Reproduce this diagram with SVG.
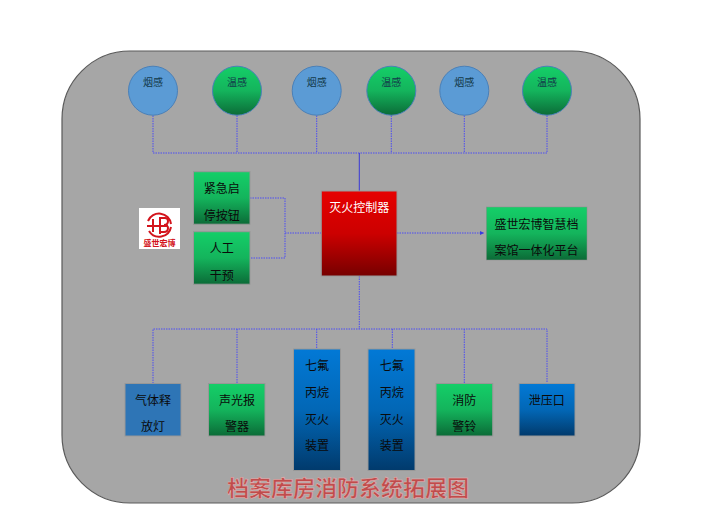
<svg xmlns="http://www.w3.org/2000/svg" width="720" height="509" viewBox="0 0 720 509">
<defs>
<linearGradient id="green" x1="0" y1="0" x2="0" y2="1"><stop offset="0" stop-color="#14cf68"/><stop offset="0.5" stop-color="#14b45c"/><stop offset="1" stop-color="#0b6b37"/></linearGradient>
<linearGradient id="blue" x1="0" y1="0" x2="0" y2="1"><stop offset="0" stop-color="#0279d6"/><stop offset="0.5" stop-color="#0267b6"/><stop offset="1" stop-color="#013a6c"/></linearGradient>
<linearGradient id="red" x1="0" y1="0" x2="0" y2="1"><stop offset="0" stop-color="#e60000"/><stop offset="0.5" stop-color="#cc0000"/><stop offset="1" stop-color="#760000"/></linearGradient>
<marker id="arrow" markerWidth="5" markerHeight="5" refX="4" refY="2.5" orient="auto" markerUnits="userSpaceOnUse"><path d="M0 0.5L4 2.5L0 4.5Z" fill="#3a3ae0"/></marker>
</defs>
<style>
text{font-family:"Noto Sans CJK SC","Liberation Serif",serif;text-anchor:middle;fill:#0a0a0a}
.c{font-size:10px;fill:#133a4a}
.b{font-size:12px}
.conn{fill:none;stroke:#4d4df2;stroke-width:1;stroke-dasharray:1.5 1}
.box{stroke:#979797;stroke-width:1}
.cir{stroke:#4a80b8;stroke-width:1}
</style>
<rect x="62" y="51" width="578" height="452" rx="68" ry="68" fill="#a6a6a6" stroke="#5a5a5a" stroke-width="1.200"/>
<g id="connectors">
<path class="conn" d="M153 115.500V153H547V115.500M237 115.500V153M316.700 115.500V153M391.300 115.500V153M464.300 115.500V153"/>
<path d="M359.300 153V191" fill="none" stroke="#3a3ad8" stroke-width="1"/>
<path class="conn" d="M250 198H285V258H250M285 233H321"/>
<path class="conn" d="M397 233H484" marker-end="url(#arrow)"/>
<path class="conn" d="M359.300 276V329M153 383.500V329H547V383.500M237 329V383.500M316.700 329V349M392.300 329V349M464.300 329V383.500"/>
</g>
<g id="n-smoke1"><circle class="cir" cx="153" cy="90.700" r="24.500" fill="#5b9bd5"/><text class="c" x="153" y="86">烟感</text></g>
<g id="n-temp1"><circle class="cir" cx="237" cy="90.700" r="24.500" fill="url(#green)"/><text class="c" x="237" y="86">温感</text></g>
<g id="n-smoke2"><circle class="cir" cx="316.700" cy="90.700" r="24.500" fill="#5b9bd5"/><text class="c" x="316.700" y="86">烟感</text></g>
<g id="n-temp2"><circle class="cir" cx="391.300" cy="90.700" r="24.500" fill="url(#green)"/><text class="c" x="391.300" y="86">温感</text></g>
<g id="n-smoke3"><circle class="cir" cx="464.300" cy="90.700" r="24.500" fill="#5b9bd5"/><text class="c" x="464.300" y="86">烟感</text></g>
<g id="n-temp3"><circle class="cir" cx="547" cy="90.700" r="24.500" fill="url(#green)"/><text class="c" x="547" y="86">温感</text></g>
<g id="n-stop"><rect class="box" x="193.500" y="171.700" width="56.500" height="52.500" fill="url(#green)"/><text class="b" x="221.700" y="193">紧急启</text><text class="b" x="221.700" y="219.500">停按钮</text></g>
<g id="n-manual"><rect class="box" x="193.500" y="231.700" width="56.500" height="52.500" fill="url(#green)"/><text class="b" x="221.700" y="253">人工</text><text class="b" x="221.700" y="279.500">干预</text></g>
<g id="n-logo"><rect x="139" y="208" width="41" height="41" fill="#fff"/>
<g fill="none" stroke="#d3141c" stroke-width="2"><path d="M148 221A12 12 0 0 1 171 224"/><path d="M171 227A12 12 0 0 1 149 231"/><path d="M147 226H168M153 219V232M160 217V234M160 218H165Q168 218 168 221Q168 225 164 225Q168 225 168 228Q168 232 164 232H160"/></g>
<text x="159.500" y="245.500" style="font-size:8px;font-weight:700;fill:#d3141c">盛世宏博</text></g>
<g id="n-controller"><rect class="box" x="321.300" y="191" width="75.700" height="85" fill="url(#red)"/><text x="359.300" y="212" style="font-size:12px;fill:#fff">灭火控制器</text></g>
<g id="n-platform"><rect x="486.300" y="207" width="100.700" height="53" fill="url(#green)" stroke="#8c8c8c" stroke-width="0.500"/><text class="b" x="536.500" y="228.500">盛世宏博智慧档</text><text class="b" x="536.500" y="255">案馆一体化平台</text></g>
<g id="n-lamp"><rect class="box" x="125" y="383.500" width="56" height="52.500" fill="#2e75b6"/><text class="b" x="153" y="404.500">气体释</text><text class="b" x="153" y="431">放灯</text></g>
<g id="n-alarm"><rect class="box" x="208.500" y="383.500" width="56.500" height="52.500" fill="url(#green)"/><text class="b" x="237" y="404.500">声光报</text><text class="b" x="237" y="431">警器</text></g>
<g id="n-gas1"><rect class="box" x="293.500" y="349" width="47" height="121.500" fill="url(#blue)"/><text class="b" x="317" y="370">七氟</text><text class="b" x="317" y="397">丙烷</text><text class="b" x="317" y="423.500">灭火</text><text class="b" x="317" y="450">装置</text></g>
<g id="n-gas2"><rect class="box" x="368" y="349" width="47" height="121.500" fill="url(#blue)"/><text class="b" x="391.700" y="370">七氟</text><text class="b" x="391.700" y="397">丙烷</text><text class="b" x="391.700" y="423.500">灭火</text><text class="b" x="391.700" y="450">装置</text></g>
<g id="n-bell"><rect class="box" x="436" y="383.500" width="56.700" height="52.500" fill="url(#green)"/><text class="b" x="464.300" y="404.500">消防</text><text class="b" x="464.300" y="431">警铃</text></g>
<g id="n-vent"><rect class="box" x="519" y="383.500" width="56" height="52.500" fill="url(#blue)"/><text class="b" x="546.700" y="404.500">泄压口</text></g>
<text x="348" y="496" style="font-size:22px;font-weight:700;fill:#c04c4c;stroke:#e6b4b4;stroke-width:0.500">档案库房消防系统拓展图</text>
</svg>
